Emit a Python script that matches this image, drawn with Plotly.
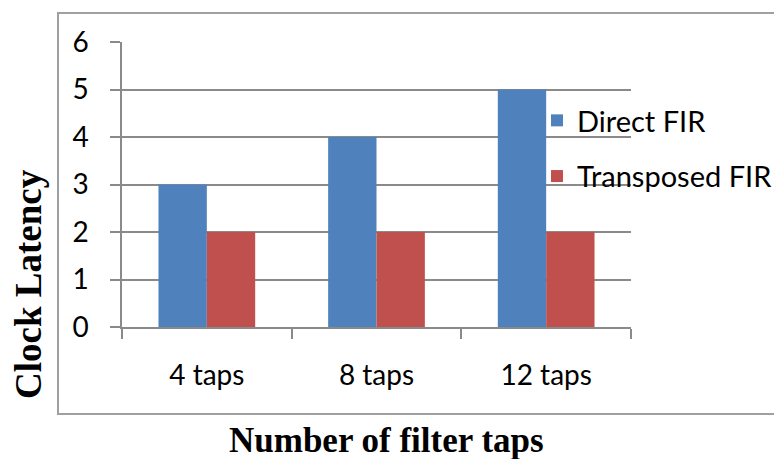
import plotly.graph_objects as go

categories = ["4 taps", "8 taps", "12 taps"]
direct_fir = [3, 4, 5]
transposed_fir = [2, 2, 2]
series_names = ["Direct FIR", "Transposed FIR"]
y_ticks = [0, 1, 2, 3, 4, 5, 6]

W, H = 774, 459
L, R, T, B = 122, 143, 42, 132
pw, ph = W - L - R, H - T - B

def px_x(px):
    return (px - L) / pw

def px_y(py):
    return (H - B - py) / ph

fig = go.Figure()
fig.add_trace(go.Bar(x=categories, y=direct_fir, name=series_names[0],
                     marker=dict(color="#4F81BD", line=dict(width=0)),
                     legendgroup="a"))
fig.add_trace(go.Bar(x=categories, y=transposed_fir, name=series_names[1],
                     marker=dict(color="#C0504D", line=dict(width=0)),
                     legendgroup="b"))

tick_font = dict(family="Lato, Calibri, sans-serif", size=28, color="#000000")
grey = "#8a8a8a"

fig.update_layout(
    width=W, height=H,
    margin=dict(l=L, r=R, t=T, b=B, autoexpand=False),
    paper_bgcolor="white", plot_bgcolor="white",
    barmode="group", bargap=0.43, bargroupgap=0,
    showlegend=True,
    legend=dict(x=px_x(537), y=px_y(95), xanchor="left", yanchor="top",
                font=dict(family="Lato, Calibri, sans-serif", size=29, color="#000000"),
                bgcolor="rgba(0,0,0,0)", traceorder="grouped", tracegroupgap=15,
                itemwidth=30),
    xaxis=dict(type="category", tickson="boundaries", ticks="outside", ticklen=10,
               tickcolor=grey, tickwidth=1.5, showline=True, linecolor=grey, linewidth=1.5,
               showgrid=False, tickfont=tick_font, ticklabelstandoff=23),
    yaxis=dict(range=[0, 6], tickvals=y_ticks, ticks="outside", ticklen=10,
               tickcolor=grey, tickwidth=1.5, showline=True, linecolor=grey, linewidth=1.5,
               showgrid=True, gridcolor=grey, gridwidth=1.5, zeroline=False,
               tickfont=tick_font, ticklabelstandoff=16),
    shapes=[dict(type="rect", xref="paper", yref="paper",
                 x0=px_x(58), x1=px_x(776), y0=px_y(414), y1=px_y(13),
                 line=dict(color="#a0a0a0", width=2), fillcolor="rgba(0,0,0,0)",
                 layer="below")],
    annotations=[
        dict(text="<b>Clock Latency</b>", xref="paper", yref="paper",
             x=px_x(28), y=px_y(284), xanchor="center", yanchor="middle",
             textangle=-90, showarrow=False,
             font=dict(family="Liberation Serif, Times New Roman, serif", size=37, color="#000000")),
        dict(text="<b>Number of filter taps</b>", xref="paper", yref="paper",
             x=px_x(386), y=px_y(440), xanchor="center", yanchor="middle",
             showarrow=False,
             font=dict(family="Liberation Serif, Times New Roman, serif", size=35, color="#000000")),
    ],
)

fig.write_html("out.html", config={"displayModeBar": False},
               post_script="document.body.style.margin='0';document.body.style.overflow='hidden';")
